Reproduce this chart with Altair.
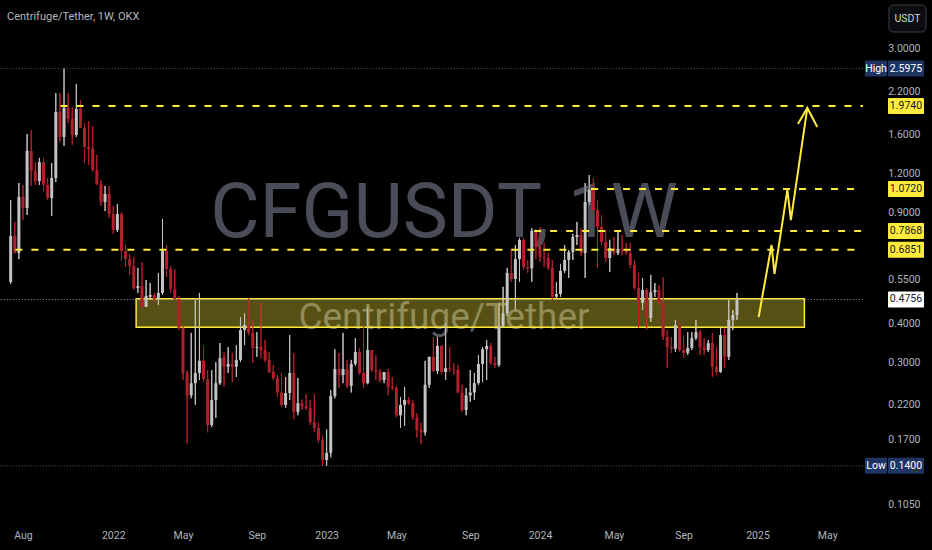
import altair as alt
import pandas as pd
import jinja2

# ---------------- data ----------------
first_week = "2021-07-12"  # weekly candles, CFG/USDT on OKX

opens = [0.541, 0.759, 0.669, 1.011, 0.932, 1.418, 1.223, 1.137, 1.306, 1.104,
         1.003, 1.162, 1.887, 1.571, 1.945, 1.793, 1.594, 1.930, 1.679, 1.460,
         1.439, 1.232, 1.112, 0.974, 1.033, 0.891, 0.793, 0.891, 0.679, 0.640,
         0.609, 0.518, 0.525, 0.450, 0.485, 0.492, 0.477, 0.499, 0.679, 0.595,
         0.514, 0.477, 0.386, 0.277, 0.235, 0.257, 0.277, 0.303, 0.265, 0.189,
         0.227, 0.257, 0.311, 0.290, 0.296, 0.290, 0.305, 0.380, 0.394, 0.372,
         0.333, 0.335, 0.328, 0.305, 0.279, 0.267, 0.240, 0.219, 0.239, 0.277,
         0.208, 0.222, 0.217, 0.214, 0.193, 0.185, 0.169, 0.146, 0.154, 0.234,
         0.285, 0.273, 0.285, 0.252, 0.296, 0.323, 0.277, 0.257, 0.328, 0.283,
         0.279, 0.263, 0.279, 0.250, 0.248, 0.203, 0.219, 0.227, 0.222, 0.200,
         0.182, 0.179, 0.254, 0.312, 0.281, 0.338, 0.279, 0.287, 0.285, 0.283,
         0.240, 0.211, 0.235, 0.240, 0.257, 0.296, 0.330, 0.338, 0.298, 0.294,
         0.391, 0.430, 0.578, 0.553, 0.640, 0.737, 0.604, 0.598, 0.787, 0.700,
         0.650, 0.645, 0.600, 0.485, 0.495, 0.587, 0.636, 0.674, 0.753, 0.764,
         0.669, 0.974, 1.064, 0.918, 0.810, 0.726, 0.645, 0.695, 0.669, 0.690,
         0.679, 0.669, 0.613, 0.518, 0.464, 0.510, 0.415, 0.502, 0.510, 0.464,
         0.361, 0.335, 0.331, 0.394, 0.328, 0.321, 0.333, 0.358, 0.374, 0.335,
         0.328, 0.345, 0.290, 0.279, 0.366, 0.312, 0.409, 0.424]

highs = [0.988, 0.841, 1.120, 1.104, 1.606, 1.654, 1.306, 1.347, 1.347, 1.162,
         1.297, 2.170, 2.170, 2.5975, 2.170, 1.959, 2.320, 2.062, 1.741, 1.767,
         1.703, 1.376, 1.145, 1.096, 1.096, 0.946, 0.959, 0.904, 0.716, 0.664,
         0.650, 0.600, 0.626, 0.549, 0.537, 0.499, 0.578, 0.859, 0.710, 0.609,
         0.595, 0.488, 0.394, 0.283, 0.372, 0.474, 0.499, 0.338, 0.283, 0.283,
         0.300, 0.345, 0.323, 0.335, 0.321, 0.340, 0.418, 0.430, 0.481, 0.409,
         0.374, 0.464, 0.353, 0.323, 0.294, 0.273, 0.277, 0.269, 0.366, 0.321,
         0.267, 0.228, 0.237, 0.227, 0.237, 0.192, 0.175, 0.183, 0.244, 0.330,
         0.321, 0.372, 0.305, 0.305, 0.358, 0.333, 0.389, 0.447, 0.328, 0.316,
         0.285, 0.279, 0.285, 0.269, 0.252, 0.232, 0.250, 0.232, 0.227, 0.206,
         0.192, 0.303, 0.312, 0.361, 0.361, 0.340, 0.400, 0.335, 0.298, 0.294,
         0.254, 0.248, 0.283, 0.277, 0.316, 0.335, 0.353, 0.345, 0.312, 0.464,
         0.522, 0.600, 0.690, 0.710, 0.748, 0.748, 0.636, 0.804, 0.798, 0.810,
         0.721, 0.669, 0.636, 0.541, 0.618, 0.710, 0.684, 0.770, 0.841, 0.804,
         1.120, 1.188, 1.162, 0.988, 0.885, 0.793, 0.737, 0.753, 0.781, 0.764,
         0.721, 0.721, 0.636, 0.578, 0.557, 0.518, 0.570, 0.537, 0.529, 0.561,
         0.380, 0.361, 0.409, 0.409, 0.366, 0.374, 0.374, 0.409, 0.380, 0.358,
         0.353, 0.372, 0.335, 0.386, 0.386, 0.474, 0.440, 0.499]

lows = [0.533, 0.669, 0.640, 0.853, 0.885, 1.096, 1.104, 1.104, 1.048, 0.988,
        0.878, 1.128, 1.514, 1.471, 1.741, 1.482, 1.571, 1.679, 1.297, 1.278,
        1.214, 1.104, 0.946, 0.911, 0.866, 0.770, 0.781, 0.632, 0.604, 0.570,
        0.510, 0.499, 0.447, 0.450, 0.474, 0.467, 0.457, 0.492, 0.561, 0.499,
        0.474, 0.380, 0.263, 0.165, 0.230, 0.219, 0.263, 0.259, 0.179, 0.186,
        0.199, 0.254, 0.250, 0.277, 0.259, 0.269, 0.300, 0.340, 0.366, 0.298,
        0.312, 0.309, 0.300, 0.277, 0.263, 0.232, 0.216, 0.214, 0.227, 0.197,
        0.203, 0.211, 0.211, 0.189, 0.179, 0.166, 0.140, 0.140, 0.149, 0.230,
        0.248, 0.257, 0.248, 0.240, 0.292, 0.273, 0.248, 0.255, 0.279, 0.263,
        0.259, 0.257, 0.235, 0.244, 0.200, 0.185, 0.188, 0.219, 0.196, 0.172,
        0.164, 0.175, 0.248, 0.279, 0.275, 0.273, 0.263, 0.279, 0.273, 0.239,
        0.208, 0.203, 0.224, 0.227, 0.254, 0.259, 0.263, 0.294, 0.288, 0.290,
        0.386, 0.421, 0.541, 0.440, 0.541, 0.591, 0.578, 0.541, 0.640, 0.626,
        0.604, 0.591, 0.474, 0.481, 0.485, 0.578, 0.557, 0.636, 0.710, 0.655,
        0.557, 0.952, 0.885, 0.600, 0.710, 0.626, 0.582, 0.659, 0.659, 0.659,
        0.659, 0.600, 0.510, 0.386, 0.440, 0.380, 0.403, 0.485, 0.457, 0.353,
        0.288, 0.321, 0.323, 0.323, 0.309, 0.316, 0.328, 0.353, 0.316, 0.316,
        0.323, 0.269, 0.273, 0.277, 0.288, 0.305, 0.380, 0.409]

closes = [0.759, 0.669, 1.011, 0.932, 1.418, 1.223, 1.137, 1.306, 1.104, 1.003,
          1.162, 1.887, 1.571, 1.945, 1.793, 1.594, 1.930, 1.679, 1.460, 1.439,
          1.232, 1.112, 0.974, 1.033, 0.891, 0.793, 0.891, 0.679, 0.640, 0.609,
          0.518, 0.525, 0.450, 0.488, 0.492, 0.477, 0.499, 0.679, 0.595, 0.514,
          0.477, 0.386, 0.277, 0.235, 0.257, 0.277, 0.303, 0.265, 0.189, 0.227,
          0.257, 0.309, 0.290, 0.296, 0.290, 0.305, 0.380, 0.394, 0.372, 0.333,
          0.335, 0.328, 0.305, 0.279, 0.267, 0.240, 0.219, 0.239, 0.277, 0.208,
          0.222, 0.217, 0.214, 0.193, 0.185, 0.169, 0.146, 0.154, 0.234, 0.285,
          0.273, 0.285, 0.252, 0.296, 0.323, 0.277, 0.257, 0.328, 0.283, 0.279,
          0.263, 0.279, 0.250, 0.248, 0.203, 0.219, 0.227, 0.222, 0.200, 0.182,
          0.179, 0.254, 0.312, 0.281, 0.338, 0.279, 0.287, 0.285, 0.283, 0.240,
          0.211, 0.235, 0.240, 0.257, 0.296, 0.330, 0.338, 0.298, 0.294, 0.391,
          0.430, 0.578, 0.553, 0.640, 0.737, 0.604, 0.598, 0.787, 0.700, 0.650,
          0.645, 0.600, 0.485, 0.495, 0.587, 0.636, 0.674, 0.753, 0.764, 0.669,
          0.974, 1.064, 0.918, 0.810, 0.726, 0.645, 0.695, 0.669, 0.690, 0.679,
          0.669, 0.613, 0.518, 0.464, 0.510, 0.415, 0.502, 0.510, 0.464, 0.361,
          0.335, 0.331, 0.394, 0.328, 0.321, 0.333, 0.358, 0.374, 0.335, 0.328,
          0.345, 0.290, 0.279, 0.366, 0.312, 0.409, 0.424, 0.4756]

# horizontal resistance levels (yellow dashed)
level_prices = [1.9740, 1.0720, 0.7868, 0.6851]
level_starts = ["2021-10-05", "2024-03-28", "2023-12-22", "2021-07-20"]
chart_end = "2025-07-05"
chart_start = "2021-06-25"

# support zone
zone_start, zone_end = "2022-02-11", "2025-03-27"
zone_low, zone_high = 0.388, 0.478

# projected path (yellow arrow)
path_dates = ["2025-01-08", "2025-01-30", "2025-02-04", "2025-02-26", "2025-03-04", "2025-04-01"]
path_prices = [0.418, 0.710, 0.574, 1.064, 0.853, 1.945]
head_dates = ["2025-03-16", "2025-04-01", "2025-04-18"]
head_prices = [1.728, 1.945, 1.69]

# extremes and last price
high_price, low_price, last_price = 2.5975, 0.1400, 0.4756

# axis ticks
price_ticks = [3.0, 2.2, 1.6, 1.2, 0.9, 0.55, 0.4, 0.3, 0.22, 0.17, 0.105]
time_ticks = ["2021-08-02", "2022-01-03", "2022-05-02", "2022-09-05", "2023-01-02",
              "2023-05-01", "2023-09-04", "2024-01-01", "2024-05-06", "2024-09-02",
              "2025-01-06", "2025-05-05"]

# ---------------- styling ----------------
BG = "#000000"
TXT = "#b2b5be"
UP = "#ffffff"
UP_WICK = "#c4c4c4"
DOWN = "#f23645"
DOWN_WICK = "#b3202d"
YELLOW = "#ffeb3b"
NAVY = "#1e3564"
FONT = "Roboto, sans-serif"
W, H = 862, 522
BOX = 1.0606  # half label-box height in log units (8 px)


def ms(d):
    return int(pd.Timestamp(d, tz="UTC").value // 10**6)


x_scale = alt.Scale(type="utc", domain=[ms(chart_start) + 12 * 3600 * 1000, ms(chart_end)])
y_scale = alt.Scale(type="log", domain=[0.0926, 4.301], nice=False, zero=False)

dates = pd.date_range(first_week, periods=len(closes), freq="7D").strftime("%Y-%m-%d")
candles = pd.DataFrame({"date": dates, "open": opens, "high": highs,
                        "low": lows, "close": closes})
candles["dir"] = ["up" if c >= o else "down" for o, c in zip(opens, closes)]

X = alt.X("date:T", scale=x_scale, title=None,
          axis=alt.Axis(values=[ms(t) for t in time_ticks],
                        labelExpr="utcFormat(datum.value, utcmonth(datum.value) == 0 ? '%Y' : '%b')",
                        grid=False, domain=False, ticks=False, labelPadding=8,
                        labelColor=TXT, labelFontSize=10.5, labelFont=FONT,
                        labelFlush=False, labelOverlap=False))
Y_axis = alt.Axis(values=price_ticks, format=".4f", orient="right", grid=False,
                  domain=False, ticks=False, labelAlign="right", labelPadding=57,
                  labelColor=TXT, labelFontSize=10.5, labelFont=FONT, labelOverlap=False,
                  labelBaseline="middle")

base = alt.Chart(candles)

wicks = base.mark_rule(strokeWidth=1).encode(
    x=X,
    y=alt.Y("low:Q", scale=y_scale, axis=Y_axis, title=None),
    y2="high:Q",
    color=alt.Color("dir:N", scale=alt.Scale(domain=["up", "down"], range=[UP_WICK, DOWN_WICK]), legend=None),
)
bodies = base.mark_rule(strokeWidth=3).encode(
    x=alt.X("date:T", scale=x_scale, title=None),
    y=alt.Y("open:Q", scale=y_scale, title=None),
    y2="close:Q",
    color=alt.Color("dir:N", scale=alt.Scale(domain=["up", "down"], range=[UP, DOWN]), legend=None),
)

# watermark
wm1 = alt.Chart(pd.DataFrame({"t": ["CFGUSDT, 1W"]})).mark_text(
    font=FONT, fontSize=76, color="#4a4d57", align="center", baseline="middle"
).encode(text="t:N", x=alt.value(443), y=alt.value(214))
wm2 = alt.Chart(pd.DataFrame({"t": ["Centrifuge/Tether"]})).mark_text(
    font=FONT, fontSize=37, color="#5a5c64", align="center", baseline="middle"
).encode(text="t:N", x=alt.value(443), y=alt.value(318))

# support zone
zone = alt.Chart(pd.DataFrame({"s": [zone_start], "e": [zone_end], "lo": [zone_low], "hi": [zone_high]})).mark_rect(
    fill=YELLOW, fillOpacity=0.34, stroke=YELLOW, strokeWidth=1.5
).encode(x=alt.X("s:T", scale=x_scale, title=None), x2="e:T",
         y=alt.Y("lo:Q", scale=y_scale, title=None), y2="hi:Q")

# dotted reference lines (high / low / last)
ref = pd.DataFrame({"s": [chart_start] * 3, "e": [chart_end] * 3,
                    "p": [high_price, low_price, last_price],
                    "c": ["#5d606b", "#5d606b", "#9a9a9a"]})
ref_lines = alt.Chart(ref).mark_rule(strokeWidth=1, strokeDash=[1, 2]).encode(
    x=alt.X("s:T", scale=x_scale, title=None), x2="e:T",
    y=alt.Y("p:Q", scale=y_scale, title=None),
    color=alt.Color("c:N", scale=None))

levels = alt.Chart(pd.DataFrame({"s": level_starts, "e": [chart_end] * 4, "p": level_prices})).mark_rule(
    color=YELLOW, strokeWidth=2, strokeDash=[7, 9]
).encode(x=alt.X("s:T", scale=x_scale, title=None), x2="e:T",
         y=alt.Y("p:Q", scale=y_scale, title=None))

path = alt.Chart(pd.DataFrame({"d": path_dates, "p": path_prices, "o": list(range(len(path_dates)))})).mark_line(
    color=YELLOW, strokeWidth=2
).encode(x=alt.X("d:T", scale=x_scale, title=None), y=alt.Y("p:Q", scale=y_scale, title=None), order="o:Q")
head = alt.Chart(pd.DataFrame({"d": head_dates, "p": head_prices, "o": list(range(len(head_dates)))})).mark_line(
    color=YELLOW, strokeWidth=2
).encode(x=alt.X("d:T", scale=x_scale, title=None), y=alt.Y("p:Q", scale=y_scale, title=None), order="o:Q")

# price-axis labels
lab = pd.DataFrame({
    "p": [high_price, level_prices[0], level_prices[1], level_prices[2], level_prices[3], last_price, low_price],
    "t": ["2.5975", "1.9740", "1.0720", "0.7868", "0.6851", "0.4756", "0.1400"],
    "f": [NAVY, YELLOW, YELLOW, YELLOW, YELLOW, "#ffffff", NAVY],
    "tc": ["#ffffff", "#131722", "#131722", "#131722", "#131722", "#131722", "#ffffff"],
})
lab_c = alt.Chart(lab).transform_calculate(top=f"datum.p * {BOX}", bot=f"datum.p / {BOX}")
lab_box = lab_c.mark_rect(cornerRadius=1).encode(
    x=alt.value(887), x2=alt.value(923),
    y=alt.Y("top:Q", scale=y_scale, title=None), y2="bot:Q",
    fill=alt.Fill("f:N", scale=None))
lab_txt = lab_c.mark_text(font=FONT, fontSize=10.5, align="center", baseline="middle").encode(
    x=alt.value(905), y=alt.Y("p:Q", scale=y_scale, title=None), text="t:N",
    color=alt.Color("tc:N", scale=None))

tag = pd.DataFrame({"p": [high_price, low_price], "t": ["High", "Low"]})
tag_c = alt.Chart(tag).transform_calculate(top=f"datum.p * {BOX}", bot=f"datum.p / {BOX}")
tag_box = tag_c.mark_rect(fill=NAVY, cornerRadius=1).encode(
    x=alt.value(864), x2=alt.value(886),
    y=alt.Y("top:Q", scale=y_scale, title=None), y2="bot:Q")
tag_txt = tag_c.mark_text(font=FONT, fontSize=10.5, align="center", baseline="middle", color="#ffffff").encode(
    x=alt.value(875), y=alt.Y("p:Q", scale=y_scale, title=None), text="t:N")

# header
one = pd.DataFrame({"t": ["Centrifuge/Tether, 1W, OKX"]})
title = alt.Chart(one).mark_text(font=FONT, fontSize=11, color=TXT, align="left", baseline="middle").encode(
    text="t:N", x=alt.value(6), y=alt.value(17))
btn = alt.Chart(pd.DataFrame({"t": ["USDT"]})).mark_rect(
    fill="#0c0d10", stroke="#3b3e46", strokeWidth=1, cornerRadius=4
).encode(x=alt.value(888), x2=alt.value(925), y=alt.value(5), y2=alt.value(32))
btn_txt = alt.Chart(pd.DataFrame({"t": ["USDT"]})).mark_text(
    font=FONT, fontSize=10.5, color="#d1d4dc", align="center", baseline="middle"
).encode(text="t:N", x=alt.value(906.5), y=alt.value(18.5))

chart = alt.layer(
    wicks, wm1, wm2, zone, ref_lines, bodies, wicks, levels, path, head,
    lab_box, lab_txt, tag_box, tag_txt, title, btn, btn_txt
).properties(
    width=W, height=H, padding=0, background=BG,
    autosize=alt.AutoSizeParams(type="pad"),
).configure_view(stroke=None)

PAGE = jinja2.Template("""<!DOCTYPE html>
<html>
<head>
<style>html, body { margin: 0; padding: 0; background: #000000; overflow: hidden; }</style>
<script type="text/javascript" src="{{ base_url }}/vega@{{ vega_version }}"></script>
<script type="text/javascript" src="{{ base_url }}/vega-lite@{{ vegalite_version }}"></script>
<script type="text/javascript" src="{{ base_url }}/vega-embed@{{ vegaembed_version }}"></script>
</head>
<body>
<div id="{{ output_div }}"></div>
<script type="text/javascript">
  (function(vegaEmbed) {
    var spec = {{ spec }};
    var embedOpt = {{ embed_options }};
    function showError(el, error){
      el.innerHTML = ('<div style="color:red;"><p>JavaScript Error: ' + error.message + '</p></div>');
      throw error;
    }
    const el = document.getElementById('{{ output_div }}');
    vegaEmbed("#{{ output_div }}", spec, embedOpt).catch(error => showError(el, error));
  })(vegaEmbed);
</script>
</body>
</html>""")

chart.save("out.html", embed_options={"renderer": "svg", "actions": False}, template=PAGE)
